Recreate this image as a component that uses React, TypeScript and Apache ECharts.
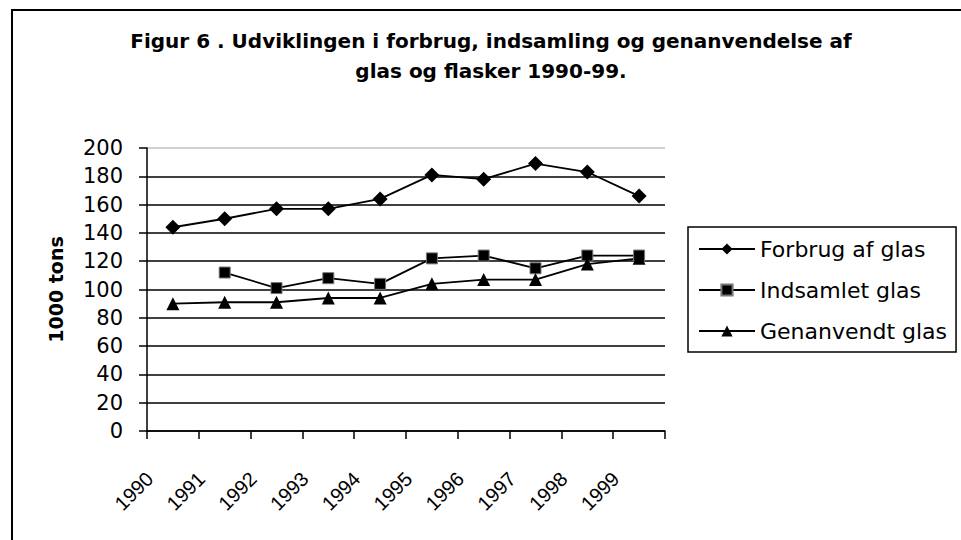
import React, { useEffect, useRef } from 'react';
import * as echarts from 'echarts';

const years = ['1990', '1991', '1992', '1993', '1994', '1995', '1996', '1997', '1998', '1999'];
const forbrug = [144, 150, 157, 157, 164, 181, 178, 189, 183, 166];
const indsamlet = [null, 112, 101, 108, 104, 122, 124, 115, 124, 124];
const genanvendt = [90, 91, 91, 94, 94, 104, 107, 107, 118, 122];
const seriesNames = ['Forbrug af glas', 'Indsamlet glas', 'Genanvendt glas'];
const titleLines = ['Figur 6 . Udviklingen i forbrug, indsamling og genanvendelse af', 'glas og flasker 1990-99.'];
const yAxisName = '1000 tons';

const WIDE = '"DejaVu Sans", Verdana, sans-serif';
const ARIAL = '"Liberation Sans", Arial, sans-serif';

export default function App() {
  const ref = useRef<HTMLDivElement>(null);
  useEffect(() => {
    const chart = echarts.init(ref.current!, null, { renderer: 'svg' });
    const splitColors = Array.from({ length: 11 }, (_, i) => (i === 10 ? '#c0c0c0' : '#000'));
    chart.setOption({
      animation: false,
      backgroundColor: '#fff',
      textStyle: { fontFamily: WIDE },
      title: {
        text: titleLines.join('\n'),
        left: 491,
        top: 26,
        padding: 0,
        textAlign: 'center',
        textStyle: { fontFamily: WIDE, fontWeight: 'bold', fontSize: 20, lineHeight: 30, color: '#000' },
      },
      graphic: [
        {
          type: 'rect',
          shape: { x: 12, y: 10, width: 1000, height: 600 },
          style: { fill: 'none', stroke: '#000', lineWidth: 2 },
          silent: true,
        },
      ],
      legend: {
        orient: 'vertical',
        left: 688,
        top: 227,
        padding: [11, 9, 10, 10],
        itemGap: 19,
        itemWidth: 56,
        itemHeight: 14,
        borderColor: '#000',
        borderWidth: 1.5,
        data: seriesNames,
        textStyle: { fontFamily: WIDE, fontSize: 22, color: '#000' },
      },
      grid: { left: 147, right: 296, top: 148, bottom: 109, containLabel: false },
      xAxis: {
        type: 'category',
        data: years,
        boundaryGap: true,
        axisLine: { lineStyle: { color: '#000', width: 1.5 } },
        axisTick: { show: true, interval: 0, length: 8, lineStyle: { color: '#000', width: 1.5 } },
        axisLabel: {
          interval: 0,
          rotate: 45,
          margin: 21,
          padding: [0, 33, 0, 0],
          fontSize: 20,
          color: '#000',
          fontFamily: ARIAL,
        },
      },
      yAxis: {
        type: 'value',
        min: 0,
        max: 200,
        interval: 20,
        name: yAxisName,
        nameLocation: 'middle',
        nameRotate: 90,
        nameGap: 82,
        nameTextStyle: { fontFamily: WIDE, fontWeight: 'bold', fontSize: 19, color: '#000' },
        axisLine: { show: true, lineStyle: { color: '#000', width: 1.5 } },
        axisTick: { show: true, length: 8, lineStyle: { color: '#000', width: 1.5 } },
        axisLabel: { fontSize: 21, color: '#000', margin: 24, fontFamily: WIDE },
        splitLine: { show: true, lineStyle: { color: splitColors, width: 1.5 } },
      },
      series: [
        {
          name: seriesNames[0],
          type: 'line',
          data: forbrug,
          symbol: 'diamond',
          symbolSize: 15,
          itemStyle: { color: '#000' },
          lineStyle: { color: '#000', width: 1.8 },
        },
        {
          name: seriesNames[1],
          type: 'line',
          data: indsamlet,
          symbol: 'rect',
          symbolSize: 11,
          itemStyle: { color: '#000', borderColor: '#777', borderWidth: 1 },
          lineStyle: { color: '#000', width: 1.8 },
        },
        {
          name: seriesNames[2],
          type: 'line',
          data: genanvendt,
          symbol: 'triangle',
          symbolSize: 13,
          itemStyle: { color: '#000' },
          lineStyle: { color: '#000', width: 1.8 },
        },
      ],
    });
    return () => chart.dispose();
  }, []);
  return <div ref={ref} style={{ width: 961, height: 540, position: 'absolute', left: 0, top: 0 }} />;
}
